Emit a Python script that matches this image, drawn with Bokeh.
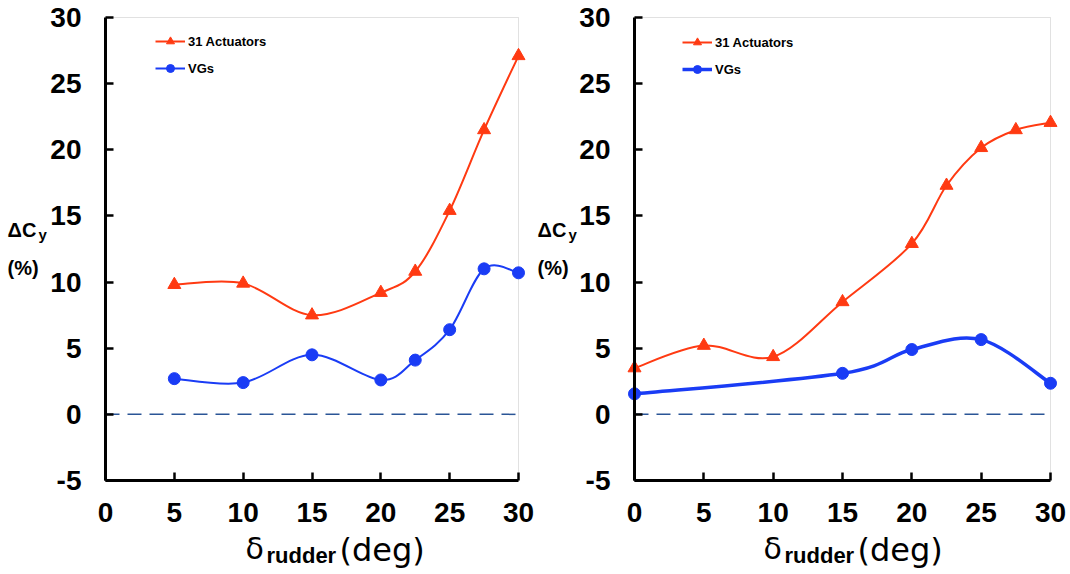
from bokeh.plotting import figure
from bokeh.models import (Range1d, FixedTicker, Label, Legend, LegendItem, BoxAnnotation)
from bokeh.layouts import row
from bokeh.embed import file_html
from bokeh.resources import INLINE

# ---------------- data ----------------
left_act_x = [5, 10, 15, 20, 22.5, 25, 27.5, 30]
left_act_y = [9.8, 9.9, 7.5, 9.2, 10.8, 15.4, 21.5, 27.1]
left_vg_x = [5, 10, 15, 20, 22.5, 25, 27.5, 30]
left_vg_y = [2.7, 2.4, 4.5, 2.6, 4.1, 6.4, 11.0, 10.7]

right_act_x = [0, 5, 10, 15, 20, 22.5, 25, 27.5, 30]
right_act_y = [3.5, 5.2, 4.35, 8.5, 12.9, 17.3, 20.15, 21.5, 22.05]
right_vg_x = [0, 15, 20, 25, 30]
right_vg_y = [1.55, 3.1, 4.9, 5.65, 2.35]

x_ticks = [0, 5, 10, 15, 20, 25, 30]
y_ticks = [-5, 0, 5, 10, 15, 20, 25, 30]
series_names = ["31 Actuators", "VGs"]

X_LIM = (0, 30)
Y_LIM = (-5, 30)

RED = "#ff3a12"
BLUE = "#1a3cf5"

# ---------------- layout (pixels) ----------------
FRAME_TOP = 17
FRAME_BOTTOM = 480
H = 572
TXT_SHIFT = 7


def smooth(xs, ys):
    """Catmull-Rom style cubic Bezier segments through the data points."""
    n = len(xs)
    d = dict(x0=[], y0=[], x1=[], y1=[], cx0=[], cy0=[], cx1=[], cy1=[])
    for i in range(n - 1):
        a = i - 1 if i > 0 else i
        b = i + 2 if i + 2 < n else i + 1
        d["x0"].append(xs[i]); d["y0"].append(ys[i])
        d["x1"].append(xs[i + 1]); d["y1"].append(ys[i + 1])
        d["cx0"].append(xs[i] + (xs[i + 1] - xs[a]) / 6.0)
        d["cy0"].append(ys[i] + (ys[i + 1] - ys[a]) / 6.0)
        d["cx1"].append(xs[i + 1] - (xs[b] - xs[i]) / 6.0)
        d["cy1"].append(ys[i + 1] - (ys[b] - ys[i]) / 6.0)
    return d


def make_panel(width, page_left, axis_left, axis_right, act, vg, vg_width,
               legend_px, ytitle_x, xtitle_x):
    # the frame covers the whole canvas; axes sit at fixed data locations
    xpp = (axis_right - axis_left) / (X_LIM[1] - X_LIM[0])
    ypp = (FRAME_BOTTOM - FRAME_TOP) / (Y_LIM[1] - Y_LIM[0])
    x_start = X_LIM[0] - (axis_left - page_left) / xpp
    x_end = X_LIM[1] + (page_left + width - axis_right) / xpp
    y_end = Y_LIM[1] + FRAME_TOP / ypp
    y_start = Y_LIM[0] - (H - FRAME_BOTTOM) / ypp

    def pd(px, py):
        return X_LIM[0] + (px - axis_left) / xpp, Y_LIM[1] - (py - FRAME_TOP) / ypp

    p = figure(width=width, height=H, output_backend="svg", toolbar_location=None,
               x_range=Range1d(x_start, x_end), y_range=Range1d(y_start, y_end),
               min_border=0)
    p.grid.visible = False
    p.outline_line_color = None
    p.background_fill_color = "white"
    p.border_fill_color = "white"

    p.add_layout(BoxAnnotation(left=X_LIM[0], right=X_LIM[1], bottom=Y_LIM[0], top=Y_LIM[1],
                               fill_alpha=0, line_color="#9a9a9a", line_width=1,
                               level="underlay"))

    xa, ya = p.xaxis[0], p.yaxis[0]
    for ax in (xa, ya):
        ax.axis_line_width = 3
        ax.axis_line_color = "black"
        ax.major_tick_line_width = 2.5
        ax.major_tick_line_color = "black"
        ax.major_tick_in = 8
        ax.major_tick_out = 0
        ax.minor_tick_line_color = None
        ax.major_label_text_font = "Liberation Sans"
        ax.major_label_text_font_style = "bold"
        ax.major_label_text_font_size = "28px"
        ax.major_label_text_color = "black"
    xa.ticker = FixedTicker(ticks=x_ticks)
    ya.ticker = FixedTicker(ticks=y_ticks)
    ya.major_label_overrides = {-5: "-5"}
    xa.fixed_location = Y_LIM[0]
    ya.fixed_location = X_LIM[0]
    xa.bounds = X_LIM
    ya.bounds = Y_LIM
    xa.major_label_standoff = 22
    ya.major_label_standoff = 24

    # zero reference line
    p.segment(x0=[X_LIM[0]], y0=[0], x1=[X_LIM[1]], y1=[0], line_color="#2a5596",
              line_width=1.5, line_dash="14 8")

    ax_, ay_ = act
    vx_, vy_ = vg
    r1 = p.bezier(source=smooth(ax_, ay_), x0="x0", y0="y0", x1="x1", y1="y1",
                  cx0="cx0", cy0="cy0", cx1="cx1", cy1="cy1",
                  line_color=RED, line_width=2)
    s1 = p.scatter(ax_, ay_, marker="triangle", size=13, fill_color=RED,
                   line_color=RED)
    r2 = p.bezier(source=smooth(vx_, vy_), x0="x0", y0="y0", x1="x1", y1="y1",
                  cx0="cx0", cy0="cy0", cx1="cx1", cy1="cy1",
                  line_color=BLUE, line_width=vg_width)
    s2 = p.scatter(vx_, vy_, marker="circle", size=12, fill_color=BLUE,
                   line_color=BLUE)

    lx, ltop = legend_px
    legend = Legend(items=[LegendItem(label=series_names[0], renderers=[r1, s1]),
                           LegendItem(label=series_names[1], renderers=[r2, s2])],
                    location=(lx - page_left, H - ltop - 47), orientation="vertical",
                    glyph_width=30, glyph_height=20, label_height=20,
                    spacing=7, padding=0, margin=0, label_standoff=3,
                    label_text_font="Liberation Sans", label_text_font_style="bold",
                    label_text_font_size="13px", label_text_color="black",
                    border_line_alpha=0, background_fill_alpha=0)
    p.add_layout(legend)

    def lab(text, px, py, size, style="bold", font="Liberation Sans"):
        x, y = pd(px, py - TXT_SHIFT)
        p.add_layout(Label(x=x, y=y, text=text, text_font=font, text_font_style=style,
                           text_font_size=size, text_color="black",
                           text_align="left", text_baseline="alphabetic"))

    # y axis title: ΔC_y (%)
    lab("\u0394C", ytitle_x, 236, "20px")
    lab("y", ytitle_x + 31, 241, "15px")
    lab("(%)", ytitle_x, 274, "20px")

    # x axis title: δ_rudder (deg)
    lab("\u03b4", xtitle_x, 555, "30px", style="normal", font="DejaVu Sans")
    lab("rudder", xtitle_x + 21, 562, "22px")
    lab("(deg)", xtitle_x + 94, 556, "32px", style="normal", font="DejaVu Sans")
    return p


left = make_panel(536, 0, 105, 518, (left_act_x, left_act_y), (left_vg_x, left_vg_y),
                  2, (155, 31), 7, 245)
right = make_panel(532, 536, 634, 1050, (right_act_x, right_act_y),
                   (right_vg_x, right_vg_y), 3.5, (682, 32), 537, 763)

layout = row(left, right)
open("out.html", "w").write(file_html(layout, INLINE))
